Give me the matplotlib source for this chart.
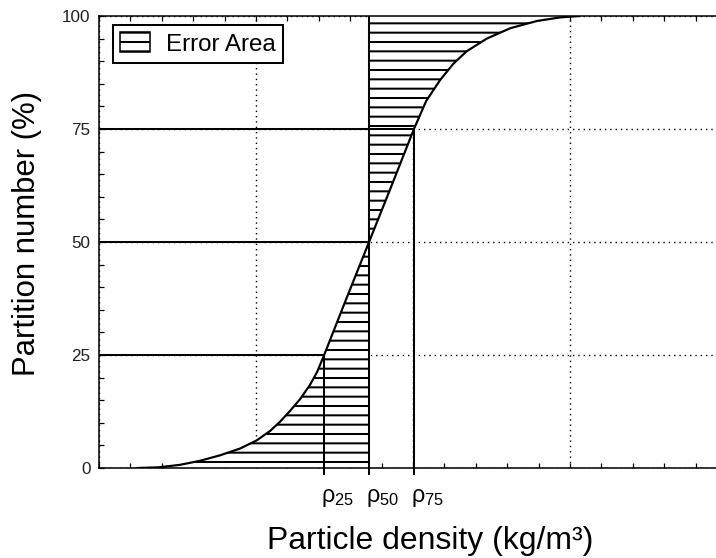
import numpy as np
import matplotlib
matplotlib.use('Agg')
import matplotlib.pyplot as plt
from matplotlib.patches import Patch
from matplotlib.ticker import MultipleLocator
from matplotlib.transforms import ScaledTranslation

plt.rcParams['font.family'] = ['Liberation Sans', 'DejaVu Sans']
plt.rcParams['mathtext.fontset'] = 'custom'
plt.rcParams['mathtext.rm'] = 'Liberation Sans'
plt.rcParams['mathtext.it'] = 'Liberation Sans'
plt.rcParams['hatch.color'] = 'black'
plt.rcParams['hatch.linewidth'] = 1.3

# curva de partição
densidade = [1.2, 1.9, 2.58, 3.22, 3.85, 4.49, 5.02, 5.45, 5.76, 6.08, 6.40, 6.72,
             6.95, 7.17, 7.88, 8.6, 9.32, 10.03, 10.42, 10.86, 11.28, 11.71,
             12.35, 13.1, 13.95, 14.7, 15.3]
particao = [0, 0.15, 0.7, 1.6, 2.8, 4.3, 6.1, 8.2, 10.2, 12.6, 15.2, 18.4,
            21.3, 25, 37.5, 50, 62.5, 75, 81.2, 85.8, 89.4, 92.2,
            95.0, 97.3, 98.9, 99.7, 100]

niveis = [25, 50, 75]
rho = [7.17, 8.6, 10.03]
rho_rotulos = [r'$\rho_{25}$', r'$\rho_{50}$', r'$\rho_{75}$']

DPI = 112
fig = plt.figure(figsize=(716 / DPI, 558 / DPI), dpi=DPI)
ax = fig.add_axes([99 / 716, 90 / 558, 628 / 716, 452 / 558])

ax.set_xlim(0, 20)
ax.set_ylim(0, 100)
ax.set_axisbelow(True)

# área de erro
ax.fill_betweenx(particao, densidade, rho[1], facecolor='white',
                 edgecolor='black', hatch='--', linewidth=0, zorder=1)

ax.plot(densidade, particao, color='black', lw=1.4, zorder=3)
ax.hlines(niveis, 0, rho, colors='black', lw=1.3, zorder=3)
ax.vlines([rho[0], rho[2]], 0, [niveis[0], niveis[2]], colors='black', lw=1.3, zorder=3)
ax.axvline(rho[1], color='black', lw=1.3, zorder=3)

# grade pontilhada
ax.xaxis.set_major_locator(MultipleLocator(5))
ax.xaxis.set_minor_locator(MultipleLocator(1))
ax.yaxis.set_major_locator(MultipleLocator(25))
ax.yaxis.set_minor_locator(MultipleLocator(5))
ax.grid(True, which='major', color='black', linestyle=(0, (1, 2.8)), linewidth=0.9)

ax.tick_params(axis='x', which='both', direction='in', top=True, bottom=True,
               labelbottom=False, length=3, width=0.8)
ax.tick_params(axis='y', which='both', direction='in', left=True, right=False,
               length=3, width=0.8, labelsize=11, pad=5.5, labelcolor='#222222')
ax.spines['right'].set_visible(False)
for s in ['left', 'bottom', 'top']:
    ax.spines[s].set_linewidth(1.0)

# rótulos rho
sec = ax.secondary_xaxis('bottom')
sec.set_xticks(rho, labels=rho_rotulos)
sec.spines['bottom'].set_visible(False)
sec.tick_params(direction='out', length=4.5, width=1.3, pad=7, labelsize=15)
desloc = ScaledTranslation(-3 / DPI, 0, fig.dpi_scale_trans)
for lbl in sec.get_xticklabels():
    lbl.set_ha('left')
    lbl.set_transform(lbl.get_transform() + desloc)

leg = ax.legend(handles=[Patch(facecolor='white', edgecolor='black', hatch='--', lw=1.0)],
                labels=['Error Area'], loc='upper left',
                bbox_to_anchor=(14 / 628, 1 - 9 / 452), borderaxespad=0,
                fontsize=15.5, fancybox=False, framealpha=1, edgecolor='black',
                borderpad=0.3, handlelength=1.25, handleheight=0.9, handletextpad=0.65)
leg.get_frame().set_linewidth(1.3)

fig.text(430 / 716, 1 - 541 / 558, 'Particle density (kg/m³)', ha='center', va='center',
         fontsize=20.5)
fig.text(27 / 716, 1 - 233 / 558, 'Partition number (%)', rotation=90, ha='center',
         va='center', fontsize=20)

fig.savefig('out.png', dpi=DPI)
